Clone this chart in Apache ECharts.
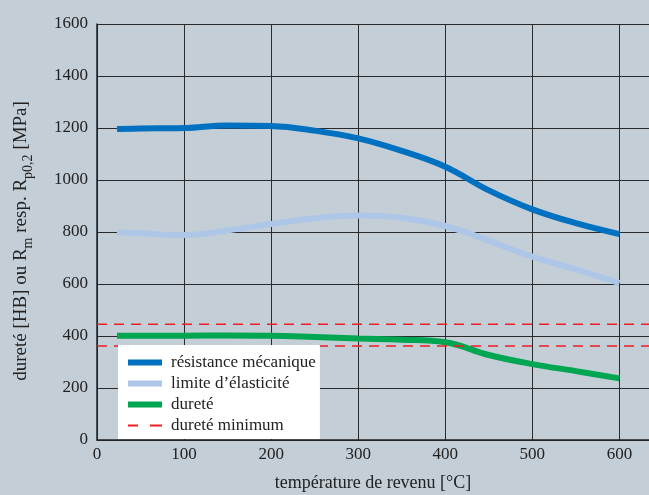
<!DOCTYPE html>
<html>
<head>
<meta charset="utf-8">
<script src="https://cdn.jsdelivr.net/npm/echarts@6/dist/echarts.min.js"></script>
<style>
html, body { margin: 0; padding: 0; background: #c4ced6; }
#myChart { width: 649px; height: 495px; }
</style>
</head>
<body>
<div id="myChart"></div>
<script>
// température de revenu [°C]
var temps = [23, 50, 100, 150, 200, 250, 300, 350, 400, 450, 500, 550, 600];
var resistance = [1196, 1198, 1200, 1210, 1208, 1190, 1160, 1112, 1051, 960, 887, 834, 792];
var elasticite = [799, 795, 788, 806, 831, 853, 863, 855, 823, 767, 705, 656, 603];
var durete = [401, 401, 401, 402, 401, 396, 390, 386, 376, 327, 292, 265, 237];
var dureteMinHaut = 445;
var dureteMinBas = 362;
var xMin = 0, xMax = 634;

function pairs(xs, ys) {
    return xs.map(function (x, i) { return [x, ys[i]]; });
}

var serif = 'Liberation Serif';
var iconSolid = 'path://M0,0h34v6h-34zM38,0';
var iconDash = 'path://M0,2h10v2h-10zM22,2h12v2h-12zM0,0M38,6';

var option = {
    backgroundColor: '#c4ced6',
    animation: false,
    grid: {
        left: 97,
        right: 0,
        top: 24,
        bottom: 55,
        outerBoundsMode: 'none'
    },
    legend: {
        orient: 'vertical',
        left: 118,
        top: 345,
        backgroundColor: '#ffffff',
        padding: [9, 4, 5, 10],
        itemGap: 4,
        itemWidth: 38,
        itemHeight: 6,
        itemStyle: { borderWidth: 0 },
        textStyle: { fontFamily: serif, fontSize: 17, color: '#222' },
        data: [
            { name: 'résistance mécanique', icon: iconSolid },
            { name: 'limite d’élasticité', icon: iconSolid },
            { name: 'dureté', icon: iconSolid },
            { name: 'dureté minimum', icon: iconDash }
        ]
    },
    xAxis: {
        type: 'value',
        min: xMin,
        max: xMax,
        interval: 100,
        name: 'température de revenu [°C]',
        nameLocation: 'middle',
        nameGap: 34,
        nameTextStyle: { fontFamily: serif, fontSize: 18, color: '#222' },
        axisLine: { lineStyle: { color: '#222', width: 1.5 } },
        axisTick: { show: false },
        axisLabel: {
            margin: 6,
            showMaxLabel: false,
            fontFamily: serif,
            fontSize: 17,
            color: '#222'
        },
        splitLine: { show: true, lineStyle: { color: '#2a2a2a', width: 1 } }
    },
    yAxis: {
        type: 'value',
        min: 0,
        max: 1600,
        interval: 200,
        name: '{t|dureté [HB] ou R}{s|m}{t| resp. R}{s|p0,2}{t| [MPa]}',
        nameLocation: 'middle',
        nameGap: 62,
        nameTextStyle: {
            padding: [0, 18, 0, 0],
            rich: {
                t: { fontFamily: serif, fontSize: 19, color: '#222', lineHeight: 23, verticalAlign: 'top' },
                s: { fontFamily: serif, fontSize: 14, color: '#222', lineHeight: 14, verticalAlign: 'bottom' }
            }
        },
        axisLine: { show: true, lineStyle: { color: '#222', width: 1.5 } },
        axisTick: { show: false },
        axisLabel: {
            margin: 9,
            fontFamily: serif,
            fontSize: 17,
            color: '#222',
            formatter: function (v) { return String(v); }
        },
        splitLine: { show: true, lineStyle: { color: '#2a2a2a', width: 1 } }
    },
    series: [{
        name: 'résistance mécanique',
        type: 'line',
        color: '#0070c0',
        smooth: 0.4,
        symbol: 'none',
        lineStyle: { width: 6, cap: 'butt' },
        data: pairs(temps, resistance)
    }, {
        name: 'limite d’élasticité',
        type: 'line',
        color: '#aec7e8',
        smooth: 0.4,
        symbol: 'none',
        lineStyle: { width: 6, cap: 'butt' },
        data: pairs(temps, elasticite)
    }, {
        name: 'dureté',
        type: 'line',
        color: '#00a651',
        smooth: 0.4,
        symbol: 'none',
        lineStyle: { width: 6, cap: 'butt' },
        data: pairs(temps, durete)
    }, {
        name: 'dureté minimum',
        type: 'line',
        color: '#ee1c25',
        symbol: 'none',
        lineStyle: { width: 1.5, type: [10, 7] },
        data: [[xMin, dureteMinHaut], [xMax, dureteMinHaut]]
    }, {
        name: 'dureté minimum',
        type: 'line',
        color: '#ee1c25',
        symbol: 'none',
        lineStyle: { width: 1.5, type: [10, 7] },
        data: [[xMin, dureteMinBas], [xMax, dureteMinBas]]
    }]
};

var myChart = echarts.init(document.getElementById('myChart'));
myChart.setOption(option);

window.addEventListener('resize', function () {
    myChart.resize();
});
</script>
</body>
</html>
